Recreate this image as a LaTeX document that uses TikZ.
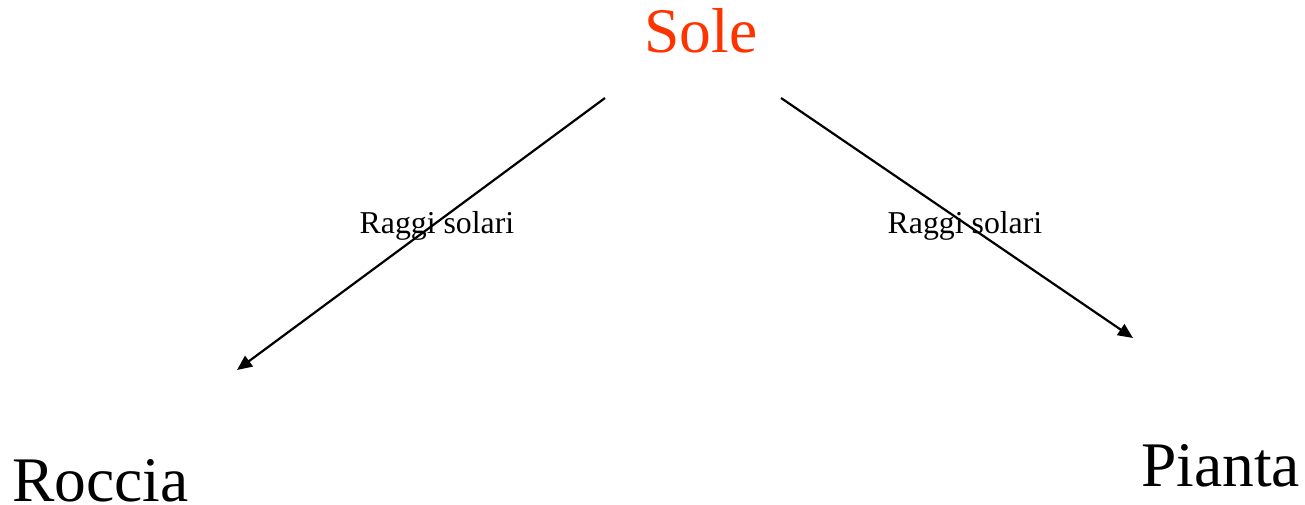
\documentclass[tikz,border=0pt]{standalone}
\usepackage{fontspec}
\setmainfont{Liberation Serif}
\usetikzlibrary{arrows.meta}
\definecolor{sunred}{HTML}{FF3300}
\begin{document}
\begin{tikzpicture}[x=1pt,y=-1pt,
  bigword/.style={inner sep=0pt,text depth=0pt,font=\fontsize{63.5}{63.5}\selectfont},
  raylabel/.style={inner sep=0pt,anchor=base west,font=\fontsize{31.8}{31.8}\selectfont},
  ray/.style={line width=2.2pt,-{Triangle[length=15pt,width=13pt]}}]
  \useasboundingbox (0,0) rectangle (1305,505);
  % words
  \node[bigword,anchor=base,text=sunred] (sun) at (701,53) {Sole};
  \node[bigword,anchor=base west] (rock) at (12,501) {Roccia};
  \node[bigword,anchor=base west] (plant) at (1141,486) {Pianta};
  % ray end points
  \coordinate (sunL) at (605,98);
  \coordinate (sunR) at (781,98);
  \coordinate (rockTip) at (237,370);
  \coordinate (plantTip) at (1133,338);
  % rays
  \draw[ray] (sunL) -- (rockTip);
  \draw[ray] (sunR) -- (plantTip);
  % ray labels
  \node[raylabel] (labL) at (359.5,233) {Raggi solari};
  \node[raylabel] (labR) at (887.5,233) {Raggi solari};
\end{tikzpicture}
\end{document}
